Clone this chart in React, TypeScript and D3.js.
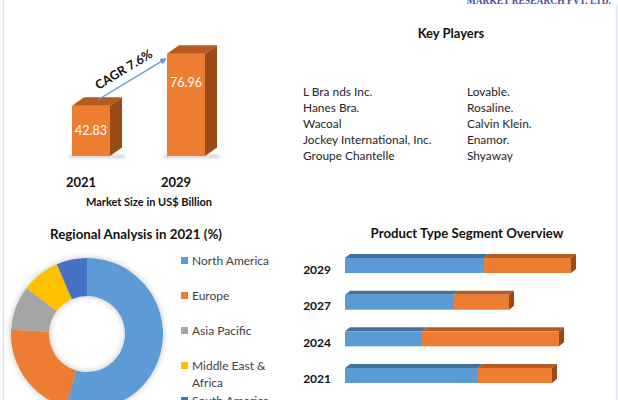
import React from "react";
import * as d3 from "d3";

// ---- data ----
const marketYears = ["2021", "2029"];
const marketValues = [42.83, 76.96];
const cagrLabel = "CAGR 7.6%";

const keyPlayersLeft = ["L Bra nds Inc.", "Hanes Bra.", "Wacoal", "Jockey International, Inc.", "Groupe Chantelle"];
const keyPlayersRight = ["Lovable.", "Rosaline.", "Calvin Klein.", "Enamor.", "Shyaway"];

const regions = ["North America", "Europe", "Asia Pacific", "Middle East & Africa", "South America"];
const regionShares = [54.5, 21.4, 9.4, 8.2, 6.5];
const regionColors = ["#5b9bd5", "#ed7d31", "#a5a5a5", "#ffc000", "#4472c4"];

const productYears = ["2029", "2027", "2024", "2021"];
const productSeriesA = [55.6, 43.2, 30.8, 53.2];
const productSeriesB = [34.8, 22.4, 54.8, 29.6];

const FONT = "Lato, 'Open Sans', sans-serif";

function MarketBars() {
  const x = d3.scaleBand<string>().domain(marketYears).range([72, 205]).paddingInner(0.6).paddingOuter(0);
  const y = d3.scaleLinear().domain([10, 80]).range([156, 49]);
  const dx = 12, dy = -8.5;
  const bw = x.bandwidth();
  const y0 = y(10);
  const x1 = x(marketYears[0])! + bw / 2 + 7;
  const yA = y(marketValues[0]) - 6;
  const x2 = x(marketYears[1])! - 1;
  const yB = y(marketValues[1]) + 5;
  const ang = (Math.atan2(yB - yA, x2 - x1) * 180) / Math.PI;
  return (
    <g>
      <defs>
        <filter id="blurS" x="-50%" y="-200%" width="200%" height="500%">
          <feGaussianBlur stdDeviation="1.5" />
        </filter>
        <marker id="arrowHead" viewBox="0 0 10 10" refX="9" refY="5" markerWidth="5" markerHeight="5" orient="auto">
          <path d="M0,0 L10,5 L0,10 z" fill="#5b9bd5" />
        </marker>
      </defs>
      {marketYears.map((yr, i) => {
        const bx = x(yr)!;
        const top = y(marketValues[i]);
        return (
          <g key={yr}>
            <rect x={bx - 3} y={y0 - 1} width={bw + dx + 6} height={3} fill="#cfcfcf" filter="url(#blurS)" />
            <rect x={bx} y={top} width={bw} height={y0 - top} fill="#ed7d31" />
            <polygon
              points={`${bx},${top} ${bx + dx},${top + dy} ${bx + bw + dx},${top + dy} ${bx + bw},${top}`}
              fill="#b65a1f"
            />
            <polygon
              points={`${bx + bw},${top} ${bx + bw + dx},${top + dy} ${bx + bw + dx},${y0 + dy} ${bx + bw},${y0}`}
              fill="#9b4b19"
            />
            <text
              x={bx + bw / 2}
              y={(top + y0) / 2 + 4 + (i === 1 ? -22 : 0)}
              fill="#fff"
              fontSize={12.5}
              textAnchor="middle"
              fontFamily={FONT}
            >
              {marketValues[i].toFixed(2)}
            </text>
            <text x={bx + bw / 2 - 10} y={187} fontSize={13} fontWeight="bold" textAnchor="middle" fontFamily={FONT} fill="#111">
              {yr}
            </text>
          </g>
        );
      })}
      <line x1={x1} y1={yA} x2={x2} y2={yB} stroke="#5b9bd5" strokeWidth={1.3} markerEnd="url(#arrowHead)" />
      <text
        transform={`translate(${(x1 + x2) / 2 - 6},${(yA + yB) / 2 - 6}) rotate(${ang})`}
        textAnchor="middle"
        fontSize={12.5}
        fontWeight="bold"
        fontFamily={FONT}
        fill="#111"
      >
        {cagrLabel}
      </text>
      <text x={149} y={206} fontSize={11} fontWeight="bold" textAnchor="middle" fontFamily={FONT} fill="#111">
        Market Size in US$ Billion
      </text>
    </g>
  );
}

function KeyPlayers() {
  const y = d3.scalePoint<number>().domain(d3.range(keyPlayersLeft.length)).range([96, 160]);
  return (
    <g fontFamily={FONT} fill="#262626">
      <text x={451} y={38} fontSize={13} fontWeight="bold" textAnchor="middle" fill="#111">
        Key Players
      </text>
      {keyPlayersLeft.map((n, i) => (
        <text key={n} x={303} y={y(i)} fontSize={11.9}>
          {n}
        </text>
      ))}
      {keyPlayersRight.map((n, i) => (
        <text key={n} x={467} y={y(i)} fontSize={11.9}>
          {n}
        </text>
      ))}
    </g>
  );
}

function Donut() {
  const cx = 87, cy = 334;
  const pie = d3.pie<number>().sort(null).value((d) => d);
  const arcs = pie(regionShares);
  const arc = d3.arc<d3.PieArcDatum<number>>().innerRadius(38).outerRadius(76);
  const legendY = [261, 296, 331, 366, 401];
  return (
    <g fontFamily={FONT}>
      <defs>
        <filter id="dshadow" x="-30%" y="-30%" width="160%" height="160%">
          <feDropShadow dx="0" dy="0" stdDeviation="3" floodColor="#000" floodOpacity="0.25" />
        </filter>
      </defs>
      <text x={136} y={239} fontSize={13.3} fontWeight="bold" textAnchor="middle" fill="#111">
        Regional Analysis in 2021 (%)
      </text>
      <g transform={`translate(${cx},${cy})`} filter="url(#dshadow)">
        {arcs.map((a, i) => (
          <path key={regions[i]} d={arc(a)!} fill={regionColors[i]} />
        ))}
      </g>
      {regions.map((r, i) => {
        const lines = r === "Middle East & Africa" ? ["Middle East &", "Africa"] : [r];
        return (
          <g key={r}>
            <rect x={181} y={legendY[i] - 4} width={7} height={7} fill={regionColors[i]} />
            {lines.map((l, j) => (
              <text key={l} x={192} y={legendY[i] + 4 + j * 16.5} fontSize={12} fill="#404040">
                {l}
              </text>
            ))}
          </g>
        );
      })}
    </g>
  );
}

function ProductBars() {
  const y = d3.scaleBand<string>().domain(productYears).range([258, 383]).paddingInner(0.59).paddingOuter(0);
  const x = d3.scaleLinear().domain([0, 100]).range([345, 595]);
  const bh = y.bandwidth();
  const dx = 5, dy = -4;
  const seg = (x0: number, x1: number, top: number, front: string, topC: string, side: string | null, key: string) => (
    <g key={key}>
      <polygon points={`${x0},${top} ${x0 + dx},${top + dy} ${x1 + dx},${top + dy} ${x1},${top}`} fill={topC} />
      <rect x={x0} y={top} width={x1 - x0} height={bh} fill={front} />
      {side && (
        <polygon points={`${x1},${top} ${x1 + dx},${top + dy} ${x1 + dx},${top + bh + dy} ${x1},${top + bh}`} fill={side} />
      )}
    </g>
  );
  return (
    <g fontFamily={FONT}>
      <text x={467} y={238} fontSize={13.2} fontWeight="bold" textAnchor="middle" fill="#111">
        Product Type Segment Overview
      </text>
      {productYears.map((yr, i) => {
        const top = y(yr)!;
        const a = x(productSeriesA[i]);
        const b = x(productSeriesA[i] + productSeriesB[i]);
        return (
          <g key={yr}>
            <text x={331} y={top + bh / 2 + 8} fontSize={12} fontWeight="bold" textAnchor="end" fill="#111">
              {yr}
            </text>
            {seg(x(0), a, top, "#5b9bd5", "#41719c", null, "a")}
            {seg(a, b, top, "#ed7d31", "#b35b22", "#9b4b19", "b")}
          </g>
        );
      })}
    </g>
  );
}

export default function App() {
  return (
    <div style={{ position: "absolute", left: 0, top: 0 }}>
      <svg width={618} height={400} style={{ display: "block", background: "#fff" }}>
        <line x1={3.5} y1={0} x2={3.5} y2={400} stroke="#dae3f3" strokeWidth={1.5} />
        <line x1={616.5} y1={5} x2={616.5} y2={400} stroke="#dae3f3" strokeWidth={1.5} />
        <text x={611} y={4} fontSize={9.5} fontWeight="bold" textAnchor="end" fill="#4b4ea0" fontFamily="'Liberation Serif', serif">
          MARKET RESEARCH PVT. LTD.
        </text>
        <MarketBars />
        <KeyPlayers />
        <Donut />
        <ProductBars />
      </svg>
    </div>
  );
}
